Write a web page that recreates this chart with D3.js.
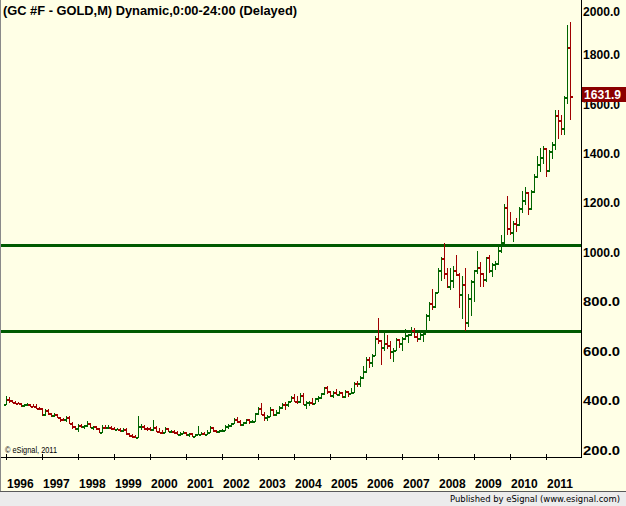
<!DOCTYPE html>
<html><head><meta charset="utf-8">
<script src="https://cdn.jsdelivr.net/npm/d3@7"></script>
<style>html,body{margin:0;padding:0;background:#fff}svg{display:block}</style>
</head><body><svg id="c" width="626" height="506"></svg>
<script>
// ---- data (monthly OHLC, GC #F gold, Jan 1996 .. Sep 2011) ----
const years = [1996,1997,1998,1999,2000,2001,2002,2003,2004,2005,2006,2007,2008,2009,2010,2011];
const openP = [
387,405,401,396,392,391,382,386,387,380,379,371,
369,345,363,349,340,345,334,326,325,333,311,296,
290,303,297,301,309,293,296,288,273,294,292,294,
288,287,287,280,286,268,262,255,254,299,299,291,
290,283,293,277,274,272,289,276,278,273,264,270,
273,265,267,258,264,266,270,266,273,293,279,275,
279,282,297,302,309,326,318,304,312,324,317,318,
348,368,347,335,339,364,346,355,376,388,386,398,
416,400,397,424,388,394,395,392,410,416,430,453,
438,423,435,428,436,418,437,430,434,472,470,496,
518,570,557,584,654,645,616,633,626,599,606,648,
635,652,667,669,684,660,652,668,673,746,793,784,
838,927,975,917,865,886,928,914,833,872,718,814,
884,928,942,917,890,980,928,954,955,1008,1040,1182,
1097,1081,1118,1116,1180,1212,1245,1181,1248,1308,1359,1386,
1421,1333,1411,1439,1556,1536,1502,1628,1829];
const highP = [
418,416,403,398,395,392,388,392,388,387,385,373,
370,367,364,349,350,346,335,331,336,337,314,298,
307,304,303,316,310,299,298,290,300,302,300,297,
294,291,291,291,290,269,263,260,337,305,302,292,
293,321,298,288,279,293,290,281,279,276,272,276,
273,269,269,266,298,274,272,280,296,294,280,281,
285,303,305,310,328,332,323,315,326,325,322,350,
372,390,352,341,373,366,360,378,391,394,399,418,
428,420,431,432,398,399,410,412,417,431,455,457,
438,438,448,439,436,444,438,450,475,479,499,541,
575,576,588,660,735,645,677,665,640,613,652,651,
657,690,670,697,692,672,686,680,750,800,851,840,
935,982,1036,935,935,945,989,918,903,935,833,887,
930,1006,960,917,982,990,958,964,1025,1070,1195,1227,
1163,1126,1140,1183,1249,1266,1246,1251,1315,1388,1424,1432,
1424,1413,1448,1576,1577,1556,1632,1920,1930];
const lowP = [
386,396,394,389,389,380,380,384,378,378,369,366,
340,340,345,336,338,333,319,320,319,308,290,283,
276,292,288,299,292,287,286,272,272,288,289,285,
284,283,277,278,266,257,253,252,253,285,287,279,
280,282,275,273,270,271,275,271,270,263,262,267,
262,256,255,255,263,265,264,265,271,278,271,272,
277,281,288,299,308,315,302,300,310,311,313,316,
345,345,322,321,336,340,340,350,371,367,377,397,
398,392,393,386,371,383,385,389,397,412,425,432,
418,413,425,423,414,414,418,430,434,459,457,491,
517,537,538,583,634,547,605,613,574,560,603,615,
606,650,637,666,656,642,648,642,685,726,772,780,
838,886,895,858,850,860,910,780,736,686,700,745,
801,915,864,865,885,920,905,931,953,1003,1033,1075,
1075,1044,1088,1110,1164,1196,1155,1175,1242,1305,1330,1360,
1308,1327,1381,1418,1462,1478,1478,1603,1539];
const closeP = [
405,401,396,392,391,382,386,387,380,379,371,369,
345,363,349,340,345,334,326,325,333,311,296,290,
303,297,301,309,293,296,288,273,294,292,294,288,
287,287,280,286,268,262,255,254,299,299,291,290,
283,293,277,274,272,289,276,278,273,264,270,273,
265,267,258,264,266,270,266,273,293,279,275,279,
282,297,302,309,326,318,304,312,324,317,318,348,
368,347,335,339,364,346,355,376,388,386,398,416,
400,397,424,388,394,395,392,410,416,430,453,438,
423,435,428,436,418,437,430,434,472,470,496,518,
570,557,584,654,645,616,633,626,599,606,648,635,
652,667,669,684,660,652,668,673,746,793,784,838,
927,975,917,865,886,928,914,833,872,718,814,884,
928,942,917,890,980,928,954,955,1008,1040,1182,1097,
1081,1118,1116,1180,1212,1245,1181,1248,1308,1359,1386,1421,
1333,1411,1439,1556,1536,1502,1628,1829,1631.9];
const yTickValues = [200,400,600,800,1000,1200,1400,1600,1800,2000];
const levelLines = [1029, 683];
const titleText = "(GC #F - GOLD,M) Dynamic,0:00-24:00 (Delayed)";
const lastText = "1631.9";

// ---- layout ----
const W = 626, H = 506;
const plotRight = 581, axisY = 457;
const BG = "#FFFFE6", UP = "#006400", DN = "#A00000";

const svg = d3.select("#c");
svg.append("rect").attr("width", W).attr("height", H).attr("fill", BG);

const keys = [];
years.forEach(y => { for (let m = 1; m <= 12; m++) keys.push(y + "-" + m); });
const monthKeys = keys.slice(0, closeP.length);

const x = d3.scalePoint().domain(monthKeys).range([6, 570]);
const y = d3.scaleLinear().domain([200, 1000]).range([450, 252.3]);

const bars = monthKeys.map((k, i) => ({
  k, o: openP[i], h: highP[i], l: lowP[i], c: closeP[i],
  up: closeP[i] >= openP[i]
}));

// level lines
svg.append("g").selectAll("line").data(levelLines).join("line")
  .attr("x1", 0).attr("x2", plotRight)
  .attr("y1", d => Math.round(y(d)) + 0.5).attr("y2", d => Math.round(y(d)) + 0.5)
  .attr("stroke", "#005A00").attr("stroke-width", 3);

// OHLC bars
const g = svg.append("g").attr("shape-rendering", "crispEdges");
const bg = g.selectAll("g.b").data(bars).join("g").attr("class", "b")
  .attr("fill", d => d.up ? UP : DN);
bg.append("rect")
  .attr("x", d => Math.round(x(d.k)))
  .attr("width", 1)
  .attr("y", d => Math.round(y(d.h)))
  .attr("height", d => Math.max(1, Math.round(y(d.l)) - Math.round(y(d.h)) + 1));
bg.append("rect")
  .attr("x", d => Math.round(x(d.k)) - 2).attr("width", 2)
  .attr("y", d => Math.round(y(d.o))).attr("height", 2);
bg.append("rect")
  .attr("x", d => Math.round(x(d.k)) + 1).attr("width", 2)
  .attr("y", d => Math.round(y(d.c))).attr("height", 2);

// axes frame
svg.append("line").attr("x1", plotRight + 0.5).attr("x2", plotRight + 0.5)
  .attr("y1", 0).attr("y2", axisY + 1).attr("stroke", "#000");
svg.append("line").attr("x1", 0).attr("x2", plotRight + 1)
  .attr("y1", axisY + 0.5).attr("y2", axisY + 0.5).attr("stroke", "#000");
svg.append("line").attr("x1", 0.5).attr("x2", 0.5).attr("y1", 0).attr("y2", 492)
  .attr("stroke", "#8a8a8a");

// year ticks + labels
const yearKeys = years.map(yr => yr + "-1");
const xa = svg.append("g");
xa.selectAll("line").data(yearKeys).join("line")
  .attr("x1", d => Math.round(x(d)) + 0.5).attr("x2", d => Math.round(x(d)) + 0.5)
  .attr("y1", axisY - 3).attr("y2", axisY + 3).attr("stroke", "#000");
xa.selectAll("text").data(years).join("text")
  .attr("x", d => Math.round(x(d + "-1")) + 1).attr("y", 488)
  .attr("font-family", "Liberation Sans, Arial, sans-serif").attr("font-weight", "bold")
  .attr("font-size", 12).attr("fill", "#000").text(d => d);

// right axis labels
const ya = svg.append("g");
ya.selectAll("text").data(yTickValues).join("text")
  .attr("x", plotRight + 2)
  .attr("y", d => Math.max(11, y(d)) + 4.5)
  .attr("font-family", "Liberation Sans, Arial, sans-serif").attr("font-weight", "bold")
  .attr("font-size", 12).attr("textLength", 37).attr("lengthAdjust", "spacingAndGlyphs")
  .attr("fill", "#000").text(d => d3.format(".1f")(d));

// last price label
const ly = y(closeP[closeP.length - 1]);
svg.append("rect").attr("x", plotRight + 1).attr("y", Math.round(ly) - 9)
  .attr("width", W - plotRight - 1).attr("height", 15).attr("fill", "#8B0000");
svg.append("text").attr("x", plotRight + 3).attr("y", Math.round(ly) + 3)
  .attr("font-family", "Liberation Sans, Arial, sans-serif").attr("font-weight", "bold")
  .attr("font-size", 12).attr("textLength", 37).attr("lengthAdjust", "spacingAndGlyphs")
  .attr("fill", "#fff").text(lastText);

// title
svg.append("text").attr("x", 3).attr("y", 15)
  .attr("font-family", "Liberation Sans, Arial, sans-serif").attr("font-weight", "bold")
  .attr("font-size", 12).attr("textLength", 294).attr("lengthAdjust", "spacingAndGlyphs")
  .attr("fill", "#000").text(titleText);

// copyright
svg.append("text").attr("x", 5).attr("y", 453)
  .attr("font-family", "Liberation Sans, Arial, sans-serif")
  .attr("font-size", 9.5).attr("textLength", 52).attr("lengthAdjust", "spacingAndGlyphs")
  .attr("fill", "#000").text("\u00A9 eSignal, 2011");

// status bar
svg.append("rect").attr("x", 0).attr("y", 492).attr("width", W).attr("height", 14).attr("fill", "#ECECEC");
svg.append("line").attr("x1", 0).attr("x2", W).attr("y1", 491.5).attr("y2", 491.5).attr("stroke", "#5a5a5a");
svg.append("text").attr("x", 620).attr("y", 502).attr("text-anchor", "end")
  .attr("font-family", "DejaVu Sans, Liberation Sans, sans-serif")
  .attr("font-size", 9.5).attr("textLength", 170).attr("lengthAdjust", "spacingAndGlyphs")
  .attr("fill", "#000").text("Published by eSignal (www.esignal.com)");
</script></body></html>
